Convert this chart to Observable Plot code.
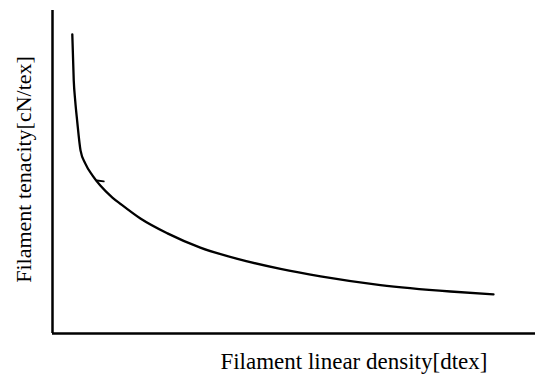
<!DOCTYPE html>
<html>
<head>
<meta charset="utf-8">
<script src="https://cdn.jsdelivr.net/npm/d3@7"></script>
<script src="https://cdn.jsdelivr.net/npm/@observablehq/plot@0.6"></script>
<style>
  html, body { margin: 0; padding: 0; background: #fff; }
</style>
</head>
<body>
<div id="chart"></div>
<script>
// Curve (arbitrary units; the original has no tick values)
const density  = [0.41, 0.44, 0.47, 0.51, 0.58, 0.68, 0.83, 0.99, 1.24, 1.41, 1.82, 2.38, 3.06, 3.83, 4.72, 5.55, 6.79, 8.24, 9.13];
const tenacity = [9.26, 7.83, 7.21, 6.59, 5.67, 5.26, 4.89, 4.58, 4.21, 4.01, 3.56, 3.10, 2.66, 2.31, 2.00, 1.77, 1.50, 1.30, 1.21];
// small pen stroke sticking out of the curve near its bend
const flickX = [0.92, 1.06];
const flickY = [4.74, 4.71];
const xLabel = "Filament linear density[dtex]";
const yLabel = "Filament tenacity[cN/tex]";

const data = density.map((d, i) => ({x: d, y: tenacity[i]}));
const flick = flickX.map((d, i) => ({x: d, y: flickY[i]}));

const chart = Plot.plot({
  width: 535,
  height: 374,
  marginLeft: 52,
  marginRight: 0,
  marginTop: 10,
  marginBottom: 41,
  style: {fontFamily: "'Liberation Serif', 'DejaVu Serif', serif", background: "#fff"},
  x: {domain: [0, 10], axis: null},
  y: {domain: [0, 10], axis: null},
  marks: [
    Plot.ruleX([0], {stroke: "#000", strokeWidth: 2.5}),
    Plot.ruleY([0], {stroke: "#000", strokeWidth: 2.5}),
    Plot.line(data, {x: "x", y: "y", curve: "monotone-x", stroke: "#000", strokeWidth: 2.3}),
    Plot.line(flick, {x: "x", y: "y", stroke: "#000", strokeWidth: 2}),
    Plot.text([xLabel], {x: 6.24, y: -0.87, text: d => d, lineAnchor: "middle", textAnchor: "middle", fontSize: 23, fill: "#000"}),
    Plot.text([yLabel], {x: -0.59, y: 5.08, text: d => d, rotate: -90, lineAnchor: "middle", textAnchor: "middle", fontSize: 22, fill: "#000"})
  ]
});
document.getElementById("chart").appendChild(chart);
</script>
</body>
</html>
